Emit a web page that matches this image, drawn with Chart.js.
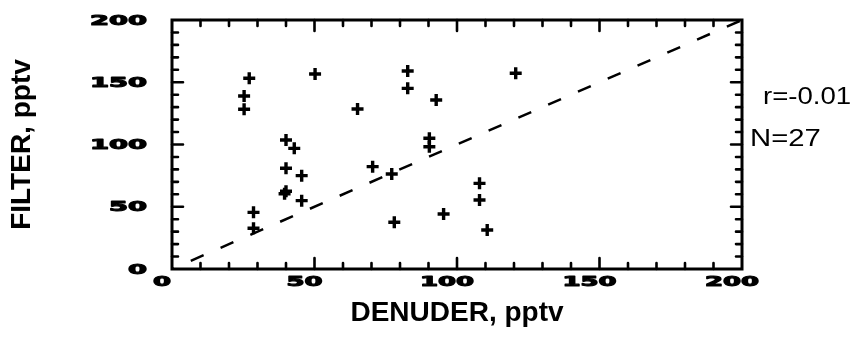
<!DOCTYPE html>
<html>
<head>
<meta charset="utf-8">
<script src="https://cdn.jsdelivr.net/npm/chart.js@4.4.1/dist/chart.umd.min.js"></script>
<style>
  html, body { margin: 0; padding: 0; background: #fff; }
  canvas { display: block; }
</style>
</head>
<body>
<canvas id="c" width="854" height="338"></canvas>
<script>
// ---- data ----
const denuder = [27.1, 25.3, 25.3, 50.2, 82.7, 82.7, 92.7, 65.1, 40.0, 42.9, 90.3, 90.3, 120.6,
                 40.0, 45.5, 40.0, 39.5, 45.5, 28.6, 28.6, 70.4, 77.1, 78.0, 95.3, 107.9, 107.9, 110.6];
const filter  = [153.2, 139.0, 128.3, 156.6, 159.0, 145.1, 135.7, 128.5, 103.6, 96.9, 105.0, 98.2, 157.2,
                 80.9, 75.0, 62.5, 60.5, 54.9, 45.5, 32.7, 82.2, 76.3, 37.5, 44.2, 68.8, 55.4, 31.3];
const lineX = [0, 200];
const lineY = [0, 200];
const tickValues = [0, 50, 100, 150, 200];
const xTickLabels = ['0', '50', '100', '150', '200'];
const yTickLabels = ['0', '50', '100', '150', '200'];
const xTitle = 'DENUDER, pptv';
const yTitle = 'FILTER, pptv';
const statLines = ['r=-0.01', 'N=27'];

const points = denuder.map((d, i) => ({ x: d, y: filter[i] }));
const linePts = lineX.map((d, i) => ({ x: d, y: lineY[i] }));

function wideText(ctx, txt, x, y, sx, align) {
  ctx.save();
  ctx.translate(x, y);
  ctx.scale(sx, 1);
  ctx.textAlign = align;
  ctx.fillText(txt, 0, 0);
  ctx.strokeText(txt, 0, 0);
  ctx.restore();
}

const framePlugin = {
  id: 'frame',
  afterDraw(chart) {
    const { ctx, chartArea: { left, right, top, bottom }, scales: { x, y } } = chart;
    ctx.save();
    ctx.strokeStyle = '#000';
    ctx.fillStyle = '#000';
    // frame
    ctx.lineWidth = 3;
    ctx.strokeRect(left, top, right - left, bottom - top);
    // inward ticks on all four sides
    ctx.lineWidth = 2.6;
    ctx.lineCap = 'round';
    x.ticks.forEach(t => {
      const v = t.value;
      if (v <= 0 || v >= 200) return;
      const px = x.getPixelForValue(v);
      const len = v % 50 === 0 ? 11 : 6;
      ctx.beginPath();
      ctx.moveTo(px, bottom); ctx.lineTo(px, bottom - len);
      ctx.moveTo(px, top); ctx.lineTo(px, top + len);
      ctx.stroke();
    });
    y.ticks.forEach(t => {
      const v = t.value;
      if (v <= 0 || v >= 200) return;
      const py = y.getPixelForValue(v);
      const len = v % 50 === 0 ? 11 : 6;
      ctx.beginPath();
      ctx.moveTo(left, py); ctx.lineTo(left + len, py);
      ctx.moveTo(right, py); ctx.lineTo(right - len, py);
      ctx.stroke();
    });
    // wide, heavy tick labels
    ctx.font = 'bold 14px "DejaVu Sans"';
    ctx.textBaseline = 'middle';
    ctx.lineWidth = 1.1;
    ctx.lineCap = 'butt';
    ctx.lineJoin = 'round';
    tickValues.forEach((v, i) => {
      wideText(ctx, xTickLabels[i], x.getPixelForValue(v) - 10, bottom + 13, 1.85, 'center');
      wideText(ctx, yTickLabels[i], left - 25, y.getPixelForValue(v) + 1, 1.95, 'right');
    });
    // statistics text
    ctx.textAlign = 'left';
    ctx.save();
    ctx.font = '23px "Liberation Sans"';
    ctx.translate(right + 21, 98);
    ctx.scale(1.2, 1);
    ctx.fillText(statLines[0], 0, 0);
    ctx.restore();
    ctx.save();
    ctx.font = '24px "Liberation Sans"';
    ctx.translate(right + 8, 139);
    ctx.scale(1.22, 1);
    ctx.fillText(statLines[1], 0, 0);
    ctx.restore();
    ctx.restore();
  }
};

new Chart(document.getElementById('c'), {
  type: 'scatter',
  data: {
    datasets: [
      {
        label: 'samples',
        data: points,
        pointStyle: 'cross',
        pointRadius: 6,
        pointBorderWidth: 3.4,
        borderColor: '#000',
        backgroundColor: '#000',
        showLine: false
      },
      {
        type: 'line',
        label: '1:1',
        data: linePts,
        borderColor: '#000',
        borderWidth: 2.5,
        borderDash: [14, 18.5],
        borderDashOffset: 12,
        pointRadius: 0,
        fill: false,
        tension: 0
      }
    ]
  },
  options: {
    responsive: false,
    animation: false,
    devicePixelRatio: 1,
    layout: { padding: { top: 20, right: 112, left: 0, bottom: 0 } },
    plugins: { legend: { display: false }, tooltip: { enabled: false } },
    scales: {
      x: {
        type: 'linear',
        min: 0, max: 200,
        ticks: { display: false, stepSize: 10 },
        grid: { display: false },
        border: { display: false },
        title: {
          display: true, text: xTitle, color: '#000',
          font: { family: '"Liberation Sans"', size: 28, weight: 'bold' },
          padding: { top: 0, bottom: 8 }
        },
        afterFit(s) { s.height = 69; }
      },
      y: {
        type: 'linear',
        min: 0, max: 200,
        ticks: { display: false, stepSize: 10 },
        grid: { display: false },
        border: { display: false },
        title: {
          display: true, text: yTitle, color: '#000',
          font: { family: '"Liberation Sans"', size: 28, weight: 'bold' },
          padding: { top: 5, bottom: 0 }
        },
        afterFit(s) { s.width = 172; }
      }
    }
  },
  plugins: [framePlugin]
});
</script>
</body>
</html>
